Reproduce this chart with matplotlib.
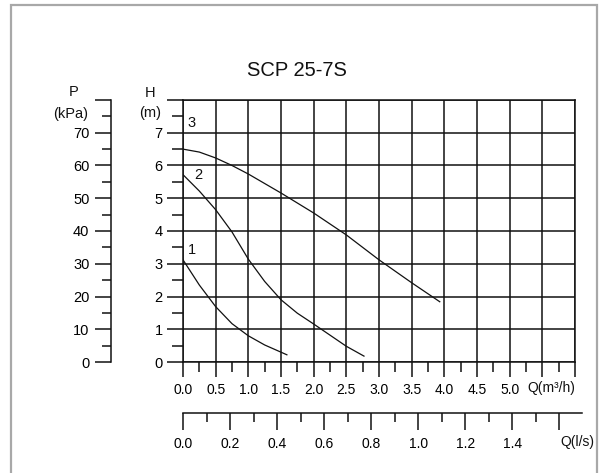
import numpy as np
import matplotlib
matplotlib.use('Agg')
import matplotlib.pyplot as plt
from matplotlib.patches import Rectangle
from matplotlib.ticker import MultipleLocator, FixedLocator

plt.rcParams['font.family'] = ['Liberation Sans', 'DejaVu Sans']

TITLE = 'SCP 25-7S'

# pump curves, Q in m3/h, H in m
q_speed1 = [0, 0.25, 0.5, 0.75, 1.0, 1.25, 1.5, 1.59]
h_speed1 = [3.12, 2.35, 1.69, 1.17, 0.8, 0.52, 0.3, 0.22]

q_speed2 = [0, 0.25, 0.5, 0.75, 1.0, 1.25, 1.5, 1.75, 2.0, 2.25, 2.5, 2.77]
h_speed2 = [5.72, 5.22, 4.65, 3.97, 3.14, 2.46, 1.9, 1.49, 1.16, 0.82, 0.48, 0.18]

q_speed3 = [0, 0.25, 0.5, 0.75, 1.0, 1.5, 2.0, 2.5, 3.0, 3.5, 3.93]
h_speed3 = [6.5, 6.41, 6.23, 6.0, 5.74, 5.16, 4.55, 3.88, 3.12, 2.42, 1.84]

curve_names = ['1', '2', '3']

# axis ranges / tick labels
q_max = 6.0
h_max = 8
p_max = 80
q_labels = ['0.0', '0.5', '1.0', '1.5', '2.0', '2.5', '3.0', '3.5', '4.0', '4.5', '5.0', '', '']
h_labels = ['0', '1', '2', '3', '4', '5', '6', '7', '']
p_labels = ['0', '10', '20', '30', '40', '50', '60', '70', '']
ls_labels = ['0.0', '0.2', '0.4', '0.6', '0.8', '1.0', '1.2', '1.4', '']

W, H = 601, 473
INK = '#111111'
LW = 1.1


def fx(px):
    return px / W


def fy(py):
    return 1 - py / H


fig = plt.figure(figsize=(W / 100, H / 100), dpi=100)

# light frame around the chart
fig.patches.append(Rectangle((fx(11), -0.05), fx(597) - fx(11), fy(5) + 0.05,
                             transform=fig.transFigure, fill=False,
                             edgecolor='#a8a8a8', linewidth=1.6))

# main grid: Q 0..6 m3/h, H 0..8 m
ax = fig.add_axes([fx(183), fy(362), fx(575) - fx(183), fy(100) - fy(362)])
ax.set_xlim(0, q_max)
ax.set_ylim(0, h_max)
ax.xaxis.set_major_locator(FixedLocator(np.arange(0, q_max + 0.01, 0.5)))
ax.xaxis.set_minor_locator(MultipleLocator(0.25))
ax.yaxis.set_major_locator(FixedLocator(np.arange(0, h_max + 0.01, 1)))
ax.yaxis.set_minor_locator(MultipleLocator(0.5))
ax.set_xticklabels(q_labels)
ax.set_yticklabels(h_labels)
ax.grid(True, which='major', color=INK, linewidth=LW)
ax.tick_params(axis='x', which='major', direction='out', length=10.8, width=LW,
               pad=4, labelsize=10, color=INK)
ax.tick_params(axis='x', which='minor', direction='out', length=7.0, width=LW, color=INK)
ax.tick_params(axis='y', which='major', direction='out', length=11.5, width=LW,
               pad=3, labelsize=10.5, color=INK)
ax.tick_params(axis='y', which='minor', direction='out', length=7.9, width=LW, color=INK)
for s in ax.spines.values():
    s.set_linewidth(LW)
    s.set_color(INK)

for q, h in [(q_speed1, h_speed1), (q_speed2, h_speed2), (q_speed3, h_speed3)]:
    ax.plot(q, h, color=INK, linewidth=0.9, solid_joinstyle='round')

label_pos = [(0.13, 3.43), (0.23, 5.72), (0.13, 7.3)]
for name, (lq, lh) in zip(curve_names, label_pos):
    ax.text(lq, lh, name, fontsize=10.5, ha='center', va='center', color=INK)

# pressure scale on the far left
axp = fig.add_axes([fx(111), fy(362), 0.0005, fy(100) - fy(362)])
axp.set_ylim(0, p_max)
axp.yaxis.set_major_locator(FixedLocator(np.arange(0, p_max + 0.01, 10)))
axp.yaxis.set_minor_locator(MultipleLocator(5))
axp.set_yticklabels(p_labels)
axp.set_xticks([])
for side in ['top', 'right', 'bottom']:
    axp.spines[side].set_visible(False)
axp.spines['left'].set_linewidth(LW)
axp.spines['left'].set_color(INK)
axp.patch.set_visible(False)
axp.tick_params(axis='y', which='major', direction='out', length=11.5, width=LW,
                pad=4, labelsize=10.5, color=INK)
axp.tick_params(axis='y', which='minor', direction='out', length=6.5, width=LW, color=INK)

# flow in l/s underneath
ls_right = 582
ls_max = (ls_right - 183) / (575 - 183) * q_max / 3.6
axl = fig.add_axes([fx(183), fy(412.5), fx(ls_right) - fx(183), 0.0005])
axl.set_xlim(0, ls_max)
axl.xaxis.set_major_locator(FixedLocator(np.arange(0, 1.61, 0.2)))
axl.xaxis.set_minor_locator(MultipleLocator(0.1))
axl.set_xticklabels(ls_labels)
axl.set_yticks([])
for side in ['top', 'right', 'left']:
    axl.spines[side].set_visible(False)
axl.spines['bottom'].set_linewidth(LW)
axl.spines['bottom'].set_color(INK)
axl.patch.set_visible(False)
axl.tick_params(axis='x', which='major', direction='out', length=12, width=LW,
                pad=5.5, labelsize=10, color=INK)
axl.tick_params(axis='x', which='minor', direction='out', length=6.5, width=LW, color=INK)

# titles and unit labels
fig.text(fx(297), fy(71), TITLE, fontsize=14.5, ha='center', va='center', color=INK)
fig.text(fx(150), fy(93), 'H', fontsize=10.5, ha='center', va='center', color=INK)
fig.text(fx(150), fy(113), '(m)', fontsize=10.5, ha='center', va='center', color=INK)
fig.text(fx(74), fy(92), 'P', fontsize=10.5, ha='center', va='center', color=INK)
fig.text(fx(71), fy(114), '(kPa)', fontsize=10.5, ha='center', va='center', color=INK)
fig.text(fx(551), fy(388), 'Q(m³/h)', fontsize=10, ha='center', va='center', color=INK)
fig.text(fx(577), fy(442), 'Q(l/s)', fontsize=10, ha='center', va='center', color=INK)

fig.savefig('out.png', dpi=100)
